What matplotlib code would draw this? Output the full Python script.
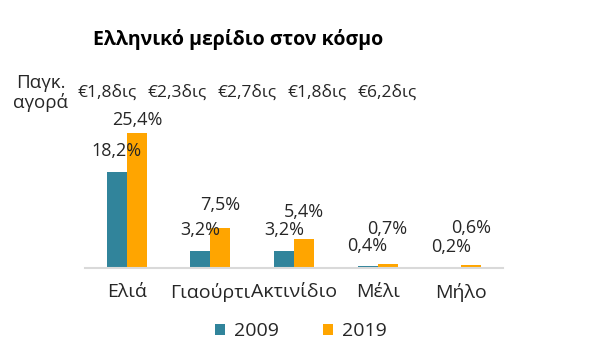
import matplotlib
matplotlib.use("Agg")
import matplotlib.pyplot as plt
import numpy as np

plt.rcParams["font.family"] = ["Open Sans", "DejaVu Sans"]

categories = ["Ελιά", "Γιαούρτι", "Ακτινίδιο", "Μέλι", "Μήλο"]
share_2009 = [18.2, 3.2, 3.2, 0.4, 0.2]
share_2019 = [25.4, 7.5, 5.4, 0.7, 0.6]
market = ["€1,8δις", "€2,3δις", "€2,7δις", "€1,8δις", "€6,2δις"]

TEAL = "#31849B"
ORANGE = "#FFA500"
TEXT = "#262626"

# label gaps above each bar (points)
gap_2009 = [8, 9, 9, 8, 8]
gap_2019 = [3, 10, 13, 19, 20]

fig = plt.figure(figsize=(6.15, 3.6), dpi=100)
ax = fig.add_axes([85 / 615, 92 / 360, 418 / 615, 159 / 360])

x = np.arange(len(categories))
w = 0.24
b1 = ax.bar(x - w / 2, share_2009, w, color=TEAL, label="2009")
b2 = ax.bar(x + w / 2, share_2019, w, color=ORANGE, label="2019")

for bars, vals, gaps in [(b1, share_2009, gap_2009), (b2, share_2019, gap_2019)]:
    for rect, v, g in zip(bars, vals, gaps):
        ax.annotate(f"{v:.1f}%".replace(".", ","),
                    (rect.get_x() + rect.get_width() / 2, rect.get_height()),
                    xytext=(0, g), textcoords="offset points",
                    ha="center", va="bottom", fontsize=13, color=TEXT)

ax.set_xlim(-0.5, len(categories) - 0.5)
ax.set_ylim(0, 30)
ax.set_xticks(x)
ax.set_xticklabels(categories, fontsize=14, color=TEXT)
ax.tick_params(axis="x", length=0, pad=11)
ax.set_yticks([])
for side in ["top", "left", "right"]:
    ax.spines[side].set_visible(False)
ax.spines["bottom"].set_color("#D9D9D9")
ax.spines["bottom"].set_linewidth(1.5)

fig.text(238 / 615, 1 - 40 / 360, "Ελληνικό μερίδιο στον κόσμο",
         ha="center", va="center", fontsize=14, fontweight="bold", color="black")
fig.text(41 / 615, 1 - 93 / 360, "Παγκ.\nαγορά", ha="center", va="center",
         fontsize=13.5, color=TEXT, linespacing=1.0)
for i, m in enumerate(market):
    fig.text((107 + 70 * i) / 615, 1 - 93 / 360, m, ha="center", va="center",
             fontsize=12.5, color=TEXT)

fig.legend(handles=[b1, b2], loc="center", bbox_to_anchor=(301 / 615, 1 - 331 / 360),
           ncol=2, frameon=False, fontsize=14, handlelength=0.5, handleheight=0.5,
           columnspacing=2.3, handletextpad=0.45, labelcolor=TEXT)

fig.savefig("out.png", dpi=100)
